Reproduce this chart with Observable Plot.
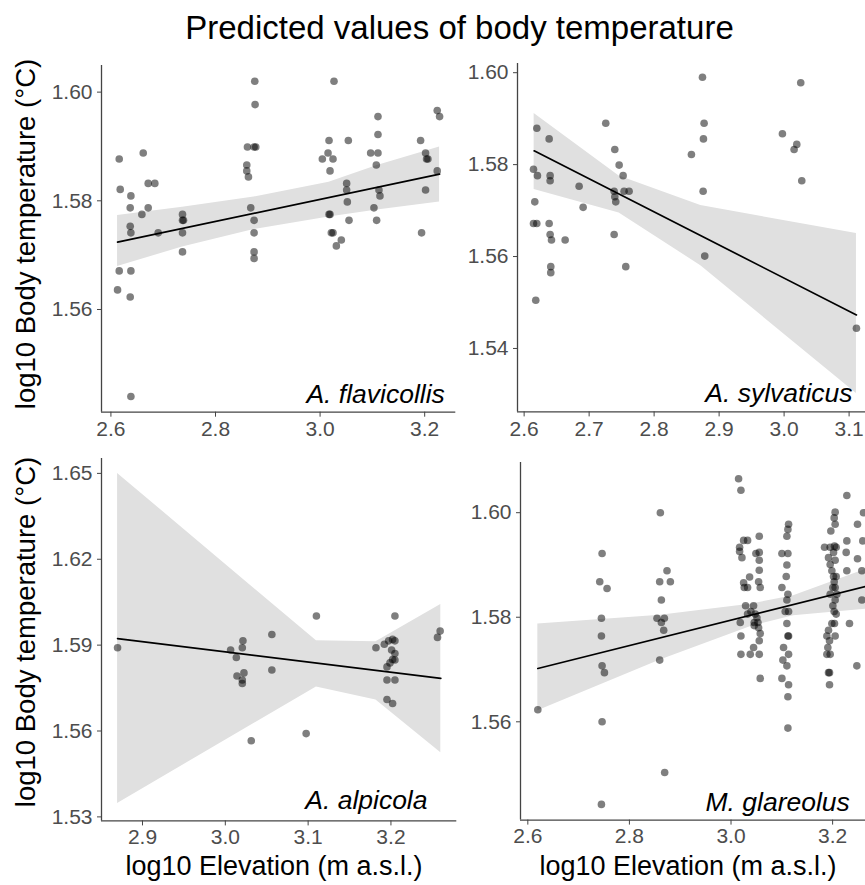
<!DOCTYPE html>
<html><head><meta charset="utf-8">
<script src="https://cdn.jsdelivr.net/npm/d3@7"></script>
<script src="https://cdn.jsdelivr.net/npm/@observablehq/plot@0.6"></script>
<style>
body{margin:0;background:#fff;}
#wrap{position:relative;width:865px;height:885px;overflow:hidden;background:#fff;}
#wrap > svg{position:absolute;}
</style></head><body><div id="wrap"></div>
<script>
const FONT = '"Liberation Sans", Arial, Helvetica, sans-serif';

// ---------- text ----------
const title = "Predicted values of body temperature";
const yTitle = "log10 Body temperature (°C)";
const xTitle = "log10 Elevation (m a.s.l.)";
const species = ["A. flavicollis", "A. sylvaticus", "A. alpicola", "M. glareolus"];

// ---------- A. flavicollis ----------
const flavX = [2.6159,2.6178,2.6159,2.6127, 2.6382,2.6369,2.6369,2.6382,2.6382,2.6369,2.6382, 2.6618,2.6592,2.6713,2.6713,2.6840,2.6904, 2.7369,2.7369,2.7388,2.7369,2.7369, 2.8611,2.8738,2.8770,2.8598,2.8598,2.8630,2.8674,2.8738,2.8738,2.8738,2.8738,2.8751,2.8757, 3.0043,3.0152,3.0171,3.0247,3.0190,3.0171,3.0190,3.0215,3.0247,3.0311,3.0406,3.0266, 3.0540,3.0508,3.0508,3.0521,3.0553, 3.0967,3.1107,3.1107,3.1107,3.1075,3.1126,3.1145,3.1030,3.1081, 3.1922,3.2017,3.2036,3.2062,3.2017,3.1941, 3.2240,3.2285,3.2240];
const flavY = [1.5877,1.5821,1.5671,1.5636, 1.5809,1.5787,1.5753,1.5741,1.5671,1.5623,1.5440, 1.5888,1.5775,1.5832,1.5787,1.5832,1.5741, 1.5775,1.5764,1.5764,1.5741,1.5706, 1.5899,1.5899,1.5899,1.5866,1.5855,1.5844,1.5787,1.5764,1.5741,1.5706,1.5694,1.6020,1.5977, 1.5877,1.5888,1.5911,1.5877,1.5855,1.5775,1.5775,1.5741,1.5741,1.5717,1.5728,1.6020, 1.5911,1.5832,1.5820,1.5798,1.5764, 1.5888,1.5888,1.5922,1.5955,1.5866,1.5820,1.5809,1.5787,1.5764, 1.5911,1.5888,1.5877,1.5877,1.5820,1.5741, 1.5966,1.5955,1.5855];
const flavLineX = [2.6127, 3.2285], flavLineY = [1.5724, 1.5849];
const flavRibX = [2.6127, 2.7369, 2.8738, 3.0171, 3.1094, 3.2285];
const flavRibHi = [1.5773, 1.5788, 1.5807, 1.5834, 1.5865, 1.5899];
const flavRibLo = [1.5679, 1.5715, 1.5747, 1.5770, 1.5783, 1.5798];

// ---------- A. sylvaticus ----------
const sylvX = [2.6144,2.6164,2.6144,2.6195,2.6195,2.6205,2.6179, 2.6385,2.6400,2.6400,2.6385,2.6400,2.6421,2.6410,2.6410, 2.6631,2.6846,2.6908, 2.7256,2.7395,2.7462,2.7523,2.7385,2.7395,2.7410,2.7538,2.7615,2.7385,2.7564, 2.8574,2.8744,2.8769,2.8759,2.8754,2.8779, 2.9974,3.0195,3.0154,3.0256,3.0272, 3.1113];
const sylvY = [1.5790,1.5719,1.5672,1.5672,1.5879,1.5776,1.5505, 1.5856,1.5776,1.5765,1.5672,1.5648,1.5636,1.5578,1.5565, 1.5636,1.5753,1.5707, 1.5890,1.5833,1.5799,1.5776,1.5742,1.5730,1.5719,1.5742,1.5742,1.5648,1.5578, 1.5822,1.5990,1.5890,1.5856,1.5742,1.5601, 1.5867,1.5844,1.5833,1.5978,1.5765, 1.5444];
const sylvLineX = [2.6154, 3.1113], sylvLineY = [1.5830, 1.5473];
const sylvRibX = [2.6154, 2.7462, 2.8718, 3.1113];
const sylvRibHi = [1.5911, 1.5775, 1.5711, 1.5650];
const sylvRibLo = [1.5746, 1.5695, 1.5580, 1.5302];

// ---------- A. alpicola ----------
const alpX = [2.8699,3.0064,3.0133,3.0213,3.0205,3.0225,3.0141,3.0205,3.0205,3.0313,3.0562,3.0562,3.0976,3.1100,3.1819,3.1920,3.1972,3.2020,3.2048,3.2008,3.2048,3.2020,3.2048,3.1988,3.1952,3.1952,3.2048,3.1952,3.2020,3.2048,3.2562,3.2594];
const alpY = [1.5891,1.5883,1.5857,1.5915,1.5891,1.5803,1.5792,1.5778,1.5766,1.5566,1.5937,1.5813,1.5591,1.6002,1.5891,1.5903,1.5915,1.5920,1.5915,1.5883,1.5871,1.5850,1.5848,1.5838,1.5824,1.5778,1.5778,1.5710,1.5696,1.6002,1.5927,1.5949];
const alpLineX = [2.8699, 3.2602], alpLineY = [1.5923, 1.5784];
const alpRibX = [2.8699, 3.1100, 3.1819, 3.2602];
const alpRibHi = [1.6500, 1.5915, 1.5912, 1.6042];
const alpRibLo = [1.5347, 1.5754, 1.5708, 1.5524];

// ---------- M. glareolus ----------
const glarX = [2.6197,
2.7462,2.7416,2.7560,2.7449,2.7449,2.7462,2.7508,2.7462,2.7449,
2.8609,2.8740,2.8596,2.8806,2.8629,2.8543,2.8688,2.8629,2.8675,2.8596,2.8694,
3.0149,3.0195,3.0169,3.0215,3.0248,3.0326,3.0169,3.0366,3.0248,3.0261,3.0326,3.0287,3.0182,3.0326,3.0392,3.0444,3.0477,3.0195,3.0195,3.0379,3.0556,3.0490,3.0556,3.0556,3.0556,3.0543,3.0575,3.0510,3.0457,3.0543,3.0575,3.0556,3.0444,3.0556,3.0575,3.0457,3.0530,
3.1133,3.1120,3.1100,3.1002,3.1120,3.1100,3.1087,3.1002,3.1120,3.1100,3.1133,3.1100,3.1120,3.1133,3.1034,3.1133,3.1021,3.1100,3.1002,3.1133,3.1120,3.1120,3.1067,
3.2050,3.2031,3.1965,3.2050,3.1841,3.1952,3.2037,3.2070,3.2018,3.1919,3.1952,3.2050,3.1985,3.2018,3.2070,3.2031,3.2005,3.2050,3.1952,3.2083,3.2050,3.2005,3.2031,3.2070,3.1985,3.2037,3.1919,3.1887,3.2050,3.1939,3.1906,3.1952,3.1887,3.1919,3.1939,3.1939,3.2280,3.2280,3.2267,3.2280,3.2332,
3.2608,3.2490,3.2594,3.2490,3.2575,3.2575,3.2477];
const glarY = [1.5623,
1.5922,1.5868,1.5855,1.5798,1.5764,1.5707,1.5694,1.5600,1.5442,
1.6000,1.5889,1.5868,1.5868,1.5833,1.5798,1.5798,1.5790,1.5775,1.5718,1.5503,
1.6065,1.6043,1.5934,1.5914,1.5947,1.5947,1.5926,1.5877,1.5866,1.5857,1.5857,1.5822,1.5790,1.5806,1.5811,1.5822,1.5806,1.5764,1.5729,1.5729,1.5955,1.5922,1.5924,1.5909,1.5890,1.5868,1.5857,1.5799,1.5790,1.5780,1.5769,1.5755,1.5742,1.5729,1.5683,1.5784,1.5790,
1.5978,1.5968,1.5955,1.5922,1.5922,1.5900,1.5878,1.5857,1.5844,1.5833,1.5811,1.5788,1.5764,1.5764,1.5742,1.5729,1.5718,1.5707,1.5683,1.5671,1.5648,1.5588,1.5811,
1.6001,1.5990,1.5965,1.5978,1.5934,1.5934,1.5936,1.5934,1.5924,1.5914,1.5901,1.5909,1.5889,1.5878,1.5878,1.5868,1.5857,1.5857,1.5844,1.5844,1.5833,1.5822,1.5811,1.5806,1.5788,1.5788,1.5775,1.5764,1.5764,1.5755,1.5742,1.5729,1.5729,1.5694,1.5694,1.5671,1.6033,1.5946,1.5924,1.5889,1.5788,
1.6000,1.5978,1.5946,1.5912,1.5889,1.5833,1.5707];
const glarLineX = [2.6197, 3.2700], glarLineY = [1.5702, 1.5860];
const glarRibX = [2.6197, 2.8609, 3.0379, 3.1231, 3.2700];
const glarRibHi = [1.5787, 1.5804, 1.5825, 1.5841, 1.5893];
const glarRibLo = [1.5621, 1.5718, 1.5782, 1.5803, 1.5816];

// ---------- ticks ----------
const flavXTicks = [2.6, 2.8, 3.0, 3.2], flavYTicks = [1.56, 1.58, 1.60];
const sylvXTicks = [2.6, 2.7, 2.8, 2.9, 3.0, 3.1], sylvYTicks = [1.54, 1.56, 1.58, 1.60];
const alpXTicks = [2.9, 3.0, 3.1, 3.2], alpYTicks = [1.53, 1.56, 1.59, 1.62, 1.65];
const glarXTicks = [2.6, 2.8, 3.0, 3.2], glarYTicks = [1.56, 1.58, 1.60];

// ---------- layout ----------
const ML = 70, MR = 12, MT = 12, MB = 45;
const panels = [
  {name: species[0], xs: flavX, ys: flavY, lx: flavLineX, ly: flavLineY, rx: flavRibX, rh: flavRibHi, rl: flavRibLo,
   xd: [2.582, 3.2595], yd: [1.5411, 1.6049], xt: flavXTicks, yt: flavYTicks, pad: 4,
   frame: [100.7, 65, 455, 411.7], ldx: -11, ldy: -9.4},
  {name: species[1], xs: sylvX, ys: sylvY, lx: sylvLineX, ly: sylvLineY, rx: sylvRibX, rh: sylvRibHi, rl: sylvRibLo,
   xd: [2.5898, 3.136], yd: [1.5262, 1.602], xt: sylvXTicks, yt: sylvYTicks, pad: 4,
   frame: [516.7, 63.3, 871.7, 411.7], ldx: -20, ldy: -9.4},
  {name: species[2], xs: alpX, ys: alpY, lx: alpLineX, ly: alpLineY, rx: alpRibX, rh: alpRibHi, rl: alpRibLo,
   xd: [2.8505, 3.2795], yd: [1.5286, 1.6552], xt: alpXTicks, yt: alpYTicks, pad: 3,
   frame: [100.7, 458.3, 456, 820.7], ldx: -29.3, ldy: -11.4},
  {name: species[3], xs: glarX, ys: glarY, lx: glarLineX, ly: glarLineY, rx: glarRibX, rh: glarRibHi, rl: glarRibLo,
   xd: [2.5856, 3.31], yd: [1.5412, 1.6096], xt: glarXTicks, yt: glarYTicks, pad: 3,
   frame: [520, 461.7, 888, 819.3], ldx: -38.7, ldy: -9.3}
];

const wrap = document.getElementById("wrap");
for (const p of panels) {
  const [fl, ft, fr, fb] = p.frame;
  const pts = p.xs.map((x, i) => ({x, y: p.ys[i]}));
  const line = p.lx.map((x, i) => ({x, y: p.ly[i]}));
  const rib = p.rx.map((x, i) => ({x, hi: p.rh[i], lo: p.rl[i]}));
  const svg = Plot.plot({
    width: (fr - fl) + ML + MR,
    height: (fb - ft) + MT + MB,
    marginLeft: ML, marginRight: MR, marginTop: MT, marginBottom: MB,
    x: {domain: p.xd},
    y: {domain: p.yd},
    style: {fontFamily: FONT, fontSize: "21px", color: "#4d4d4d", background: "transparent", overflow: "visible"},
    marks: [
      Plot.areaY(rib, {x: "x", y1: "lo", y2: "hi", fill: "#e0e0e0"}),
      Plot.dot(pts, {x: "x", y: "y", r: 3.8, fill: "black", fillOpacity: 0.5, stroke: "none"}),
      Plot.line(line, {x: "x", y: "y", stroke: "black", strokeWidth: 1.7}),
      Plot.ruleX([p.xd[0]], {stroke: "#444", strokeWidth: 1.3}),
      Plot.ruleY([p.yd[0]], {stroke: "#444", strokeWidth: 1.3}),
      Plot.axisX({ticks: p.xt, tickFormat: d3.format(".1f"), tickSize: 5, tickPadding: p.pad, label: null, fontSize: 21, stroke: "#444"}),
      Plot.axisY({ticks: p.yt, tickFormat: d3.format(".2f"), tickSize: 4, tickPadding: 5, label: null, fontSize: 21, stroke: "#444"}),
      Plot.text([p.name], {frameAnchor: "bottom-right", textAnchor: "end", lineAnchor: "bottom", dx: p.ldx, dy: p.ldy,
        fontSize: 26.5, fontStyle: "italic", fill: "black"})
    ]
  });
  svg.style.left = (fl - ML) + "px";
  svg.style.top = (ft - MT) + "px";
  wrap.appendChild(svg);
}

// overlay for titles
const ov = d3.select(wrap).append("svg")
  .attr("width", 865).attr("height", 885)
  .style("left", "0px").style("top", "0px").style("pointer-events", "none")
  .attr("font-family", FONT).attr("fill", "black");
ov.append("text").attr("x", 459.5).attr("y", 39).attr("text-anchor", "middle").attr("font-size", 33).text(title);
for (const cy of [234, 632]) {
  ov.append("text").attr("transform", `translate(35,${cy}) rotate(-90)`).attr("text-anchor", "middle")
    .attr("font-size", 27.5).text(yTitle);
}
for (const cx of [274, 688]) {
  ov.append("text").attr("x", cx).attr("y", 875).attr("text-anchor", "middle").attr("font-size", 27).text(xTitle);
}
</script></body></html>
